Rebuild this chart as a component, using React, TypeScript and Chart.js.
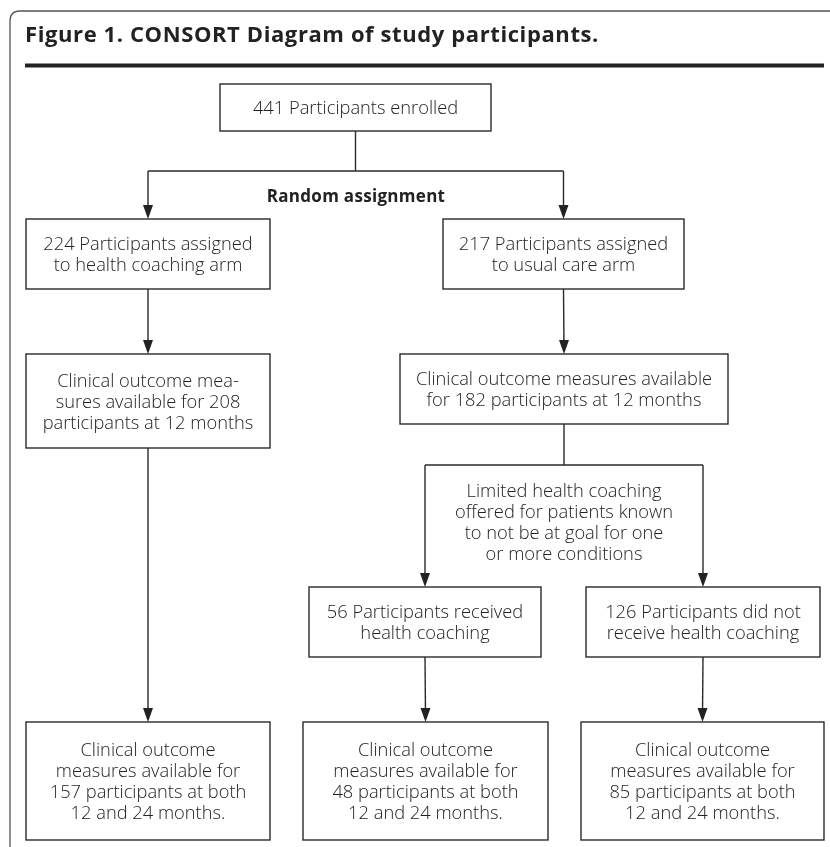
import React, { useEffect, useRef } from "react";
import { Chart, registerables } from "chart.js";

Chart.register(...registerables);

// ---- data ----
const titleText = "Figure 1. CONSORT Diagram of study participants.";
const assignmentLabel = "Random assignment";
const enrolledCount = 441;
const armNames = ["health coaching arm", "usual care arm"];
const armCounts = [224, 217];
const month12Counts = [208, 182];
const subgroupCounts = [56, 126];
const bothCounts = [157, 48, 85];
const offerText = [
  "Limited health coaching",
  "offered for patients known",
  "to not be at goal for one",
  "or more conditions",
];

// ---- node texts built from data ----
const nodeText: Record<string, string[]> = {
  enrolled: [`${enrolledCount} Participants enrolled`],
  arm0: [`${armCounts[0]} Participants assigned`, `to ${armNames[0]}`],
  arm1: [`${armCounts[1]} Participants assigned`, `to ${armNames[1]}`],
  m12_0: ["Clinical outcome mea-", `sures available for ${month12Counts[0]}`, "participants at 12 months"],
  m12_1: ["Clinical outcome measures available", `for ${month12Counts[1]} participants at 12 months`],
  sub0: [`${subgroupCounts[0]} Participants received`, "health coaching"],
  sub1: [`${subgroupCounts[1]} Participants did not`, "receive health coaching"],
  both0: ["Clinical outcome", "measures available for", `${bothCounts[0]} participants at both`, "12 and 24 months."],
  both1: ["Clinical outcome", "measures available for", `${bothCounts[1]} participants at both`, "12 and 24 months."],
  both2: ["Clinical outcome", "measures available for", `${bothCounts[2]} participants at both`, "12 and 24 months."],
};

// ---- layout (scale units) ----
const boxes: Record<string, [number, number, number, number]> = {
  enrolled: [220, 491, 84, 131],
  arm0: [26, 270, 219, 289],
  arm1: [443, 684, 219, 289],
  m12_0: [26, 270, 354, 448],
  m12_1: [400, 728, 354, 424],
  sub0: [309, 541, 587, 657],
  sub1: [586, 820, 587, 657],
  both0: [26, 270, 722, 840],
  both1: [303, 548, 722, 840],
  both2: [581, 824, 722, 840],
};
// connectors: from -> to list, with optional branching y
const connectors: { from: string; to: string[]; splitY?: number }[] = [
  { from: "enrolled", to: ["arm0", "arm1"], splitY: 171 },
  { from: "arm0", to: ["m12_0"] },
  { from: "arm1", to: ["m12_1"] },
  { from: "m12_0", to: ["both0"] },
  { from: "m12_1", to: ["sub0", "sub1"], splitY: 465 },
  { from: "sub0", to: ["both1"] },
  { from: "sub1", to: ["both2"] },
];

const FONT = "'Open Sans', 'Noto Sans', sans-serif";
const INK = "#222";
const BODY_FONT = `300 18.3px ${FONT}`;

const flowPlugin = {
  id: "flow",
  afterDraw(chart: any) {
    const ctx = chart.ctx as CanvasRenderingContext2D & { letterSpacing?: string };
    const xs = chart.scales.x;
    const ys = chart.scales.y;
    const X = (v: number) => xs.getPixelForValue(v);
    const Y = (v: number) => ys.getPixelForValue(v);
    ctx.save();

    // frame
    ctx.strokeStyle = "#555";
    ctx.lineWidth = 1.3;
    ctx.beginPath();
    ctx.moveTo(X(830), Y(11));
    ctx.lineTo(X(20), Y(11));
    ctx.quadraticCurveTo(X(10), Y(11), X(10), Y(21));
    ctx.lineTo(X(10), Y(847));
    ctx.stroke();

    // title
    ctx.fillStyle = "#222";
    ctx.font = `bold 22px ${FONT}`;
    ctx.letterSpacing = "0.6px";
    ctx.textAlign = "left";
    ctx.textBaseline = "alphabetic";
    ctx.fillText(titleText, X(25), Y(42));
    ctx.letterSpacing = "0px";
    ctx.fillRect(X(25), Y(63.5), X(824) - X(25), 4);

    // boxes
    ctx.strokeStyle = "#2a2a2a";
    ctx.lineWidth = 1.4;
    ctx.font = BODY_FONT;
    ctx.textAlign = "center";
    ctx.textBaseline = "middle";
    ctx.fillStyle = INK;
    const LH = 21;
    const DY = 1.5;
    for (const id of Object.keys(boxes)) {
      const [x0, x1, y0, y1] = boxes[id];
      ctx.strokeRect(X(x0), Y(y0), X(x1) - X(x0), Y(y1) - Y(y0));
      const lines = nodeText[id];
      const cx = (X(x0) + X(x1)) / 2;
      const cy = (Y(y0) + Y(y1)) / 2 + DY;
      lines.forEach((l, i) => {
        ctx.fillText(l, cx, cy + (i - (lines.length - 1) / 2) * LH);
      });
    }

    // connectors
    const cxOf = (id: string) => (boxes[id][0] + boxes[id][1]) / 2;
    const line = (ax: number, ay: number, bx: number, by: number) => {
      ctx.beginPath();
      ctx.moveTo(X(ax), Y(ay));
      ctx.lineTo(X(bx), Y(by));
      ctx.stroke();
    };
    const arrow = (ax: number, ay: number, bx: number, by: number) => {
      const L = 14, W = 5;
      line(ax, ay, bx, by - L * 0.5);
      ctx.beginPath();
      ctx.moveTo(X(bx), Y(by));
      ctx.lineTo(X(bx) - W, Y(by) - L);
      ctx.lineTo(X(bx) + W, Y(by) - L);
      ctx.closePath();
      ctx.fill();
    };
    ctx.lineWidth = 1.4;
    for (const c of connectors) {
      const fx = cxOf(c.from);
      const fy = boxes[c.from][3];
      if (c.splitY !== undefined) {
        line(fx, fy, fx, c.splitY);
        const txs = c.to.map(cxOf);
        line(Math.min(...txs), c.splitY, Math.max(...txs), c.splitY);
        for (const t of c.to) arrow(cxOf(t), c.splitY, cxOf(t), boxes[t][2]);
      } else {
        const t = c.to[0];
        arrow(fx, fy, cxOf(t), boxes[t][2]);
      }
    }

    // labels
    ctx.font = `bold 17px ${FONT}`;
    ctx.letterSpacing = "0.3px";
    ctx.fillText(assignmentLabel, X(356), Y(196) + DY);
    ctx.letterSpacing = "0px";
    ctx.font = BODY_FONT;
    offerText.forEach((l, i) => {
      ctx.fillText(l, X(564), Y(522) + DY + (i - 1.5) * LH);
    });

    ctx.restore();
  },
};

export default function App() {
  const ref = useRef<HTMLCanvasElement | null>(null);
  useEffect(() => {
    document.body.style.margin = "0";
    const canvas = ref.current!;
    const centers = Object.keys(boxes).map((id) => ({
      x: (boxes[id][0] + boxes[id][1]) / 2,
      y: (boxes[id][2] + boxes[id][3]) / 2,
    }));
    const chart = new Chart(canvas, {
      type: "scatter",
      data: { datasets: [{ data: centers, pointRadius: 0, pointHoverRadius: 0 }] },
      options: {
        animation: false,
        responsive: false,
        maintainAspectRatio: false,
        layout: { padding: 0 },
        events: [],
        plugins: { legend: { display: false }, tooltip: { enabled: false } },
        scales: {
          x: { type: "linear", min: 0, max: 830, display: false },
          y: { type: "linear", min: 0, max: 847, reverse: true, display: false },
        },
      },
      plugins: [flowPlugin],
    });
    return () => chart.destroy();
  }, []);
  return (
    <div style={{ position: "fixed", left: 0, top: 0, width: 830, height: 847, background: "#fff" }}>
      <canvas ref={ref} width={830} height={847} style={{ display: "block" }} />
    </div>
  );
}
